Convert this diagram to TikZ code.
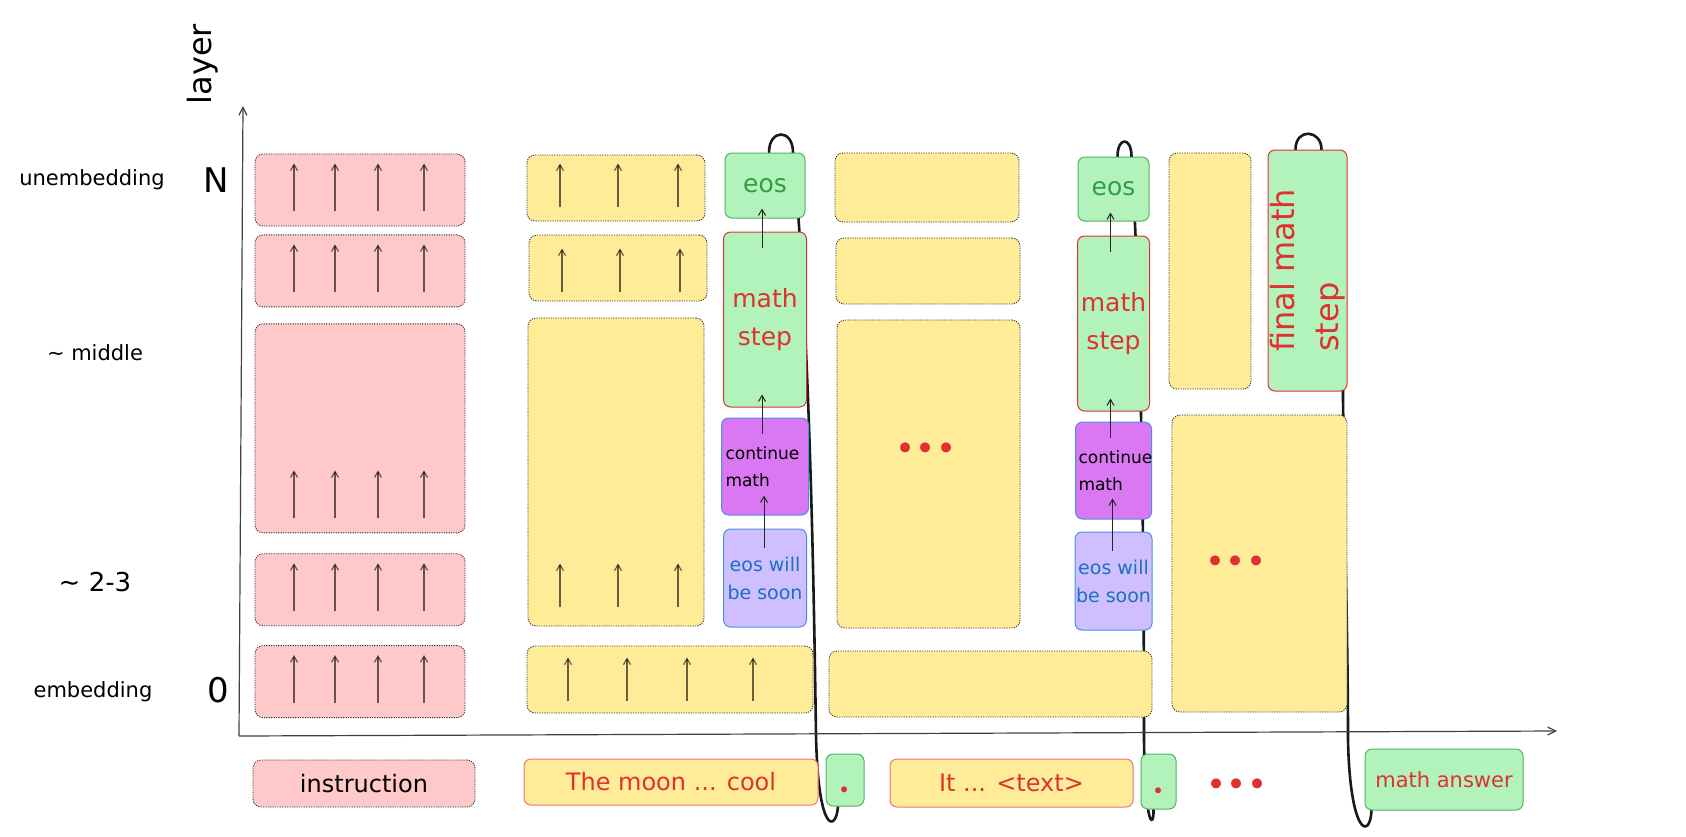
\documentclass[tikz,border=0pt]{standalone}
\usepackage{fontspec}
\setmainfont{DejaVu Sans}
\newfontfamily\dotfont{Poppins}
\usepackage{tikz}
\usetikzlibrary{arrows.meta,positioning,calc,backgrounds}

\definecolor{pinkfill}{HTML}{FFC9C9}
\definecolor{yellowfill}{HTML}{FFEC99}
\definecolor{greenfill}{HTML}{B2F2BB}
\definecolor{violetfill}{HTML}{DA77F2}
\definecolor{lilacfill}{HTML}{D0BFFF}
\definecolor{redink}{HTML}{E03131}
\definecolor{greenink}{HTML}{2F9E44}
\definecolor{blueink}{HTML}{1971C2}
\definecolor{greenline}{HTML}{51B365}
\definecolor{blueline}{HTML}{4A90E2}
\definecolor{salmonline}{HTML}{F07171}

\begin{document}
\begin{tikzpicture}[x=1pt, y=-1pt,
    cell/.style={draw=black!80, line width=0.9pt, dash pattern=on 1.2pt off 1.2pt, rounded corners=8pt, inner sep=0pt},
    pinkcell/.style={cell, fill=pinkfill},
    yellowcell/.style={cell, fill=yellowfill},
    tok/.style={draw, line width=1pt, rounded corners=7pt, inner sep=1pt, text=redink},
    greentok/.style={tok, draw=greenline, fill=greenfill},
    eosbox/.style={greentok, text=greenink, font=\fontsize{25}{30}\selectfont},
    stepbox/.style={tok, draw=redink, fill=greenfill, align=center, font=\fontsize{25}{38}\selectfont},
    contbox/.style={tok, draw=blueline, fill=violetfill, text=black, text width=79pt, align=left, font=\fontsize{17}{27}\selectfont},
    soonbox/.style={tok, draw=blueline, fill=lilacfill, text=blueink, align=center, font=\fontsize{19}{28}\selectfont},
    dotbox/.style={greentok, font=\dotfont\fontsize{48}{48}\selectfont, text height=24pt, text depth=0pt},
    sidelabel/.style={font=\fontsize{21}{25}\selectfont},
    dots/.style={text=redink, font=\fontsize{34}{34}\selectfont},
    uparrow/.style={draw=black, draw opacity=0.6, line width=1.2pt, -{Straight Barb[length=6pt,width=7pt]}},
    linkarrow/.style={draw=black!85, line width=1pt, -{Straight Barb[length=6pt,width=7pt]}},
    axisline/.style={draw=black!75, line width=1.2pt, -{Straight Barb[length=8pt,width=8pt]}},
    feed/.style={draw=black!90, line width=2.6pt, line cap=round, line join=round}
]
\useasboundingbox (0,0) rectangle (1686,836);

\node[rotate=90, font=\fontsize{32}{36}\selectfont] (lyer) at (203,64) {layer};
\node[sidelabel] (lunemb) at (92,180) {unembedding};
\node[font=\fontsize{34}{40}\selectfont] (lN) at (216,180) {N};
\node[sidelabel] (lmid) at (95,353) {∼ middle};
\node[sidelabel, font=\fontsize{26}{30}\selectfont] (lfew) at (95,582) {∼ 2-3};
\node[sidelabel] (lemb) at (93,692) {embedding};
\node[font=\fontsize{34}{40}\selectfont] (lzero) at (218,690) {0};

\coordinate (orig) at (239,736);
\coordinate (ytip) at (243,106);
\coordinate (xtip) at (1557,731);
\draw[axisline] (orig) -- (ytip);
\draw[axisline] (orig) -- (xtip);

\node[pinkcell, minimum width=210, minimum height=72] (p5) at (360,190) {};
\node[pinkcell, minimum width=210, minimum height=72, below=8pt of p5] (p4) {};
\node[pinkcell, minimum width=210, minimum height=209, below=16pt of p4] (p3) {};
\node[pinkcell, minimum width=210, minimum height=72, below=20pt of p3] (p2) {};
\node[pinkcell, minimum width=210, minimum height=72, below=19pt of p2] (p1) {};

\node[yellowcell, minimum width=178, minimum height=66] (ya5) at (616,188) {};
\node[yellowcell, minimum width=178, minimum height=66] (ya4) at (618,268) {};
\node[yellowcell, minimum width=176, minimum height=308] (ya3) at (616,472) {};
\node[yellowcell, minimum width=286, minimum height=67] (ya1) at (670,679.5) {};

\node[eosbox, minimum width=80, minimum height=65] (eos1) at (765,185.5) {eos};
\node[stepbox, minimum width=83, minimum height=175, below=13pt of eos1] (ms1) {math\\step};
\node[contbox, minimum width=87, minimum height=97, below=10pt of ms1] (cm1) {continue\\math};
\node[soonbox, minimum width=83, minimum height=98, below=13pt of cm1] (ws1) {eos will\\be soon};

\node[yellowcell, minimum width=184, minimum height=69] (yb5) at (927,187.5) {};
\node[yellowcell, minimum width=184, minimum height=66] (yb4) at (928,271) {};
\node[yellowcell, minimum width=183, minimum height=308] (yb3) at (928.5,474) {};
\node[yellowcell, minimum width=323, minimum height=66] (yb1) at (990.5,684) {};
\node[dots] (yb3dots) at (926,452) {•••};

\node[eosbox, minimum width=71, minimum height=64] (eos2) at (1113.5,189) {eos};
\node[stepbox, minimum width=72, minimum height=175, below=14pt of eos2] (ms2) {math\\step};
\node[contbox, minimum width=76, minimum height=97, text width=70pt, below=10pt of ms2] (cm2) {continue\\math};
\node[soonbox, minimum width=73, minimum height=98, below=12pt of cm2] (ws2) {eos will\\be soon};

\node[yellowcell, minimum width=82, minimum height=236] (yc5) at (1210,271) {};
\node[tok, draw=redink, fill=greenfill, minimum width=79, minimum height=241] (final) at (1307.5,270.5) {};
\node[rotate=90, text=redink, align=left, font=\fontsize{32}{44}\selectfont] (finaltxt) at (final) {final math\\step};
\node[yellowcell, minimum width=175, minimum height=297] (yc3) at (1259.5,563.5) {};
\node[dots] (yc3dots) at (1236,565) {•••};

\node[pinkcell, minimum width=222, minimum height=47, font=\fontsize{24}{28}\selectfont] (t1) at (364,783.5) {instruction};
\node[tok, draw=salmonline, fill=yellowfill, minimum width=294, minimum height=46, font=\fontsize{24}{28}\selectfont] (t2) at (671,782) {The moon ... cool};
\node[dotbox, minimum width=38, minimum height=52] (dot1) at (845,780) {.};
\node[tok, draw=salmonline, fill=yellowfill, minimum width=243, minimum height=48, font=\fontsize{24}{28}\selectfont] (t3) at (1011.5,783) {It ... <text>};
\node[dotbox, minimum width=35, minimum height=55] (dot2) at (1158.5,781.5) {.};
\node[dots] (tokdots) at (1237,788) {•••};
\node[greentok, minimum width=158, minimum height=61, font=\fontsize{21}{25}\selectfont] (ans) at (1444,779.5) {math answer};

\foreach \row in {p5,p4,p3,p2,p1}
  \foreach \dx in {-66,-25,18,64}
    \draw[uparrow] ($(\row.south)+(\dx,-15)$) -- ++(0,-48);
\foreach \row/\up in {ya5/14,ya4/9,ya3/19}
  \foreach \dx in {-56,2,62}
    \draw[uparrow] ($(\row.south)+(\dx,-\up)$) -- ++(0,-44);
\foreach \dx in {-102,-43,17,83}
  \draw[uparrow] ($(ya1.south)+(\dx,-12)$) -- ++(0,-44);

\foreach \c in {1,2} {
  \draw[linkarrow] ($(ws\c.north)+(-1,19)$) -- ++(0,-52);
  \draw[linkarrow] ($(cm\c.north)+(-3,16)$) -- ++(0,-39);
  \draw[linkarrow] ($(ms\c.north)+(-3,16)$) -- ++(0,-39);
}

\begin{scope}[on background layer]
\draw[feed] ([xshift=4pt]eos1.north) .. controls +(0,-24) and +(0,-24) .. ([xshift=28pt]eos1.north)
  .. controls (810,330) and (814,600) .. (816,735)
  .. controls (818,835) and (836,832) .. ([xshift=-7pt]dot1.south);
\draw[feed] ([xshift=4pt]eos2.north) .. controls +(0,-20) and +(0,-20) .. ([xshift=18pt]eos2.north)
  .. controls (1140,300) and (1144,500) .. (1144,740)
  .. controls (1145,828) and (1154,830) .. ([xshift=-5pt]dot2.south);
\draw[feed] ([xshift=-12pt]final.north) .. controls +(0,-22) and +(0,-20) .. ([xshift=14pt]final.north)
  .. controls (1340,250) and (1343,330) .. (1343,400)
  .. controls (1345,550) and (1348,650) .. (1348,740)
  .. controls (1350,835) and (1370,840) .. ([xshift=7pt]ans.south west);
\end{scope}
\end{tikzpicture}
\end{document}
